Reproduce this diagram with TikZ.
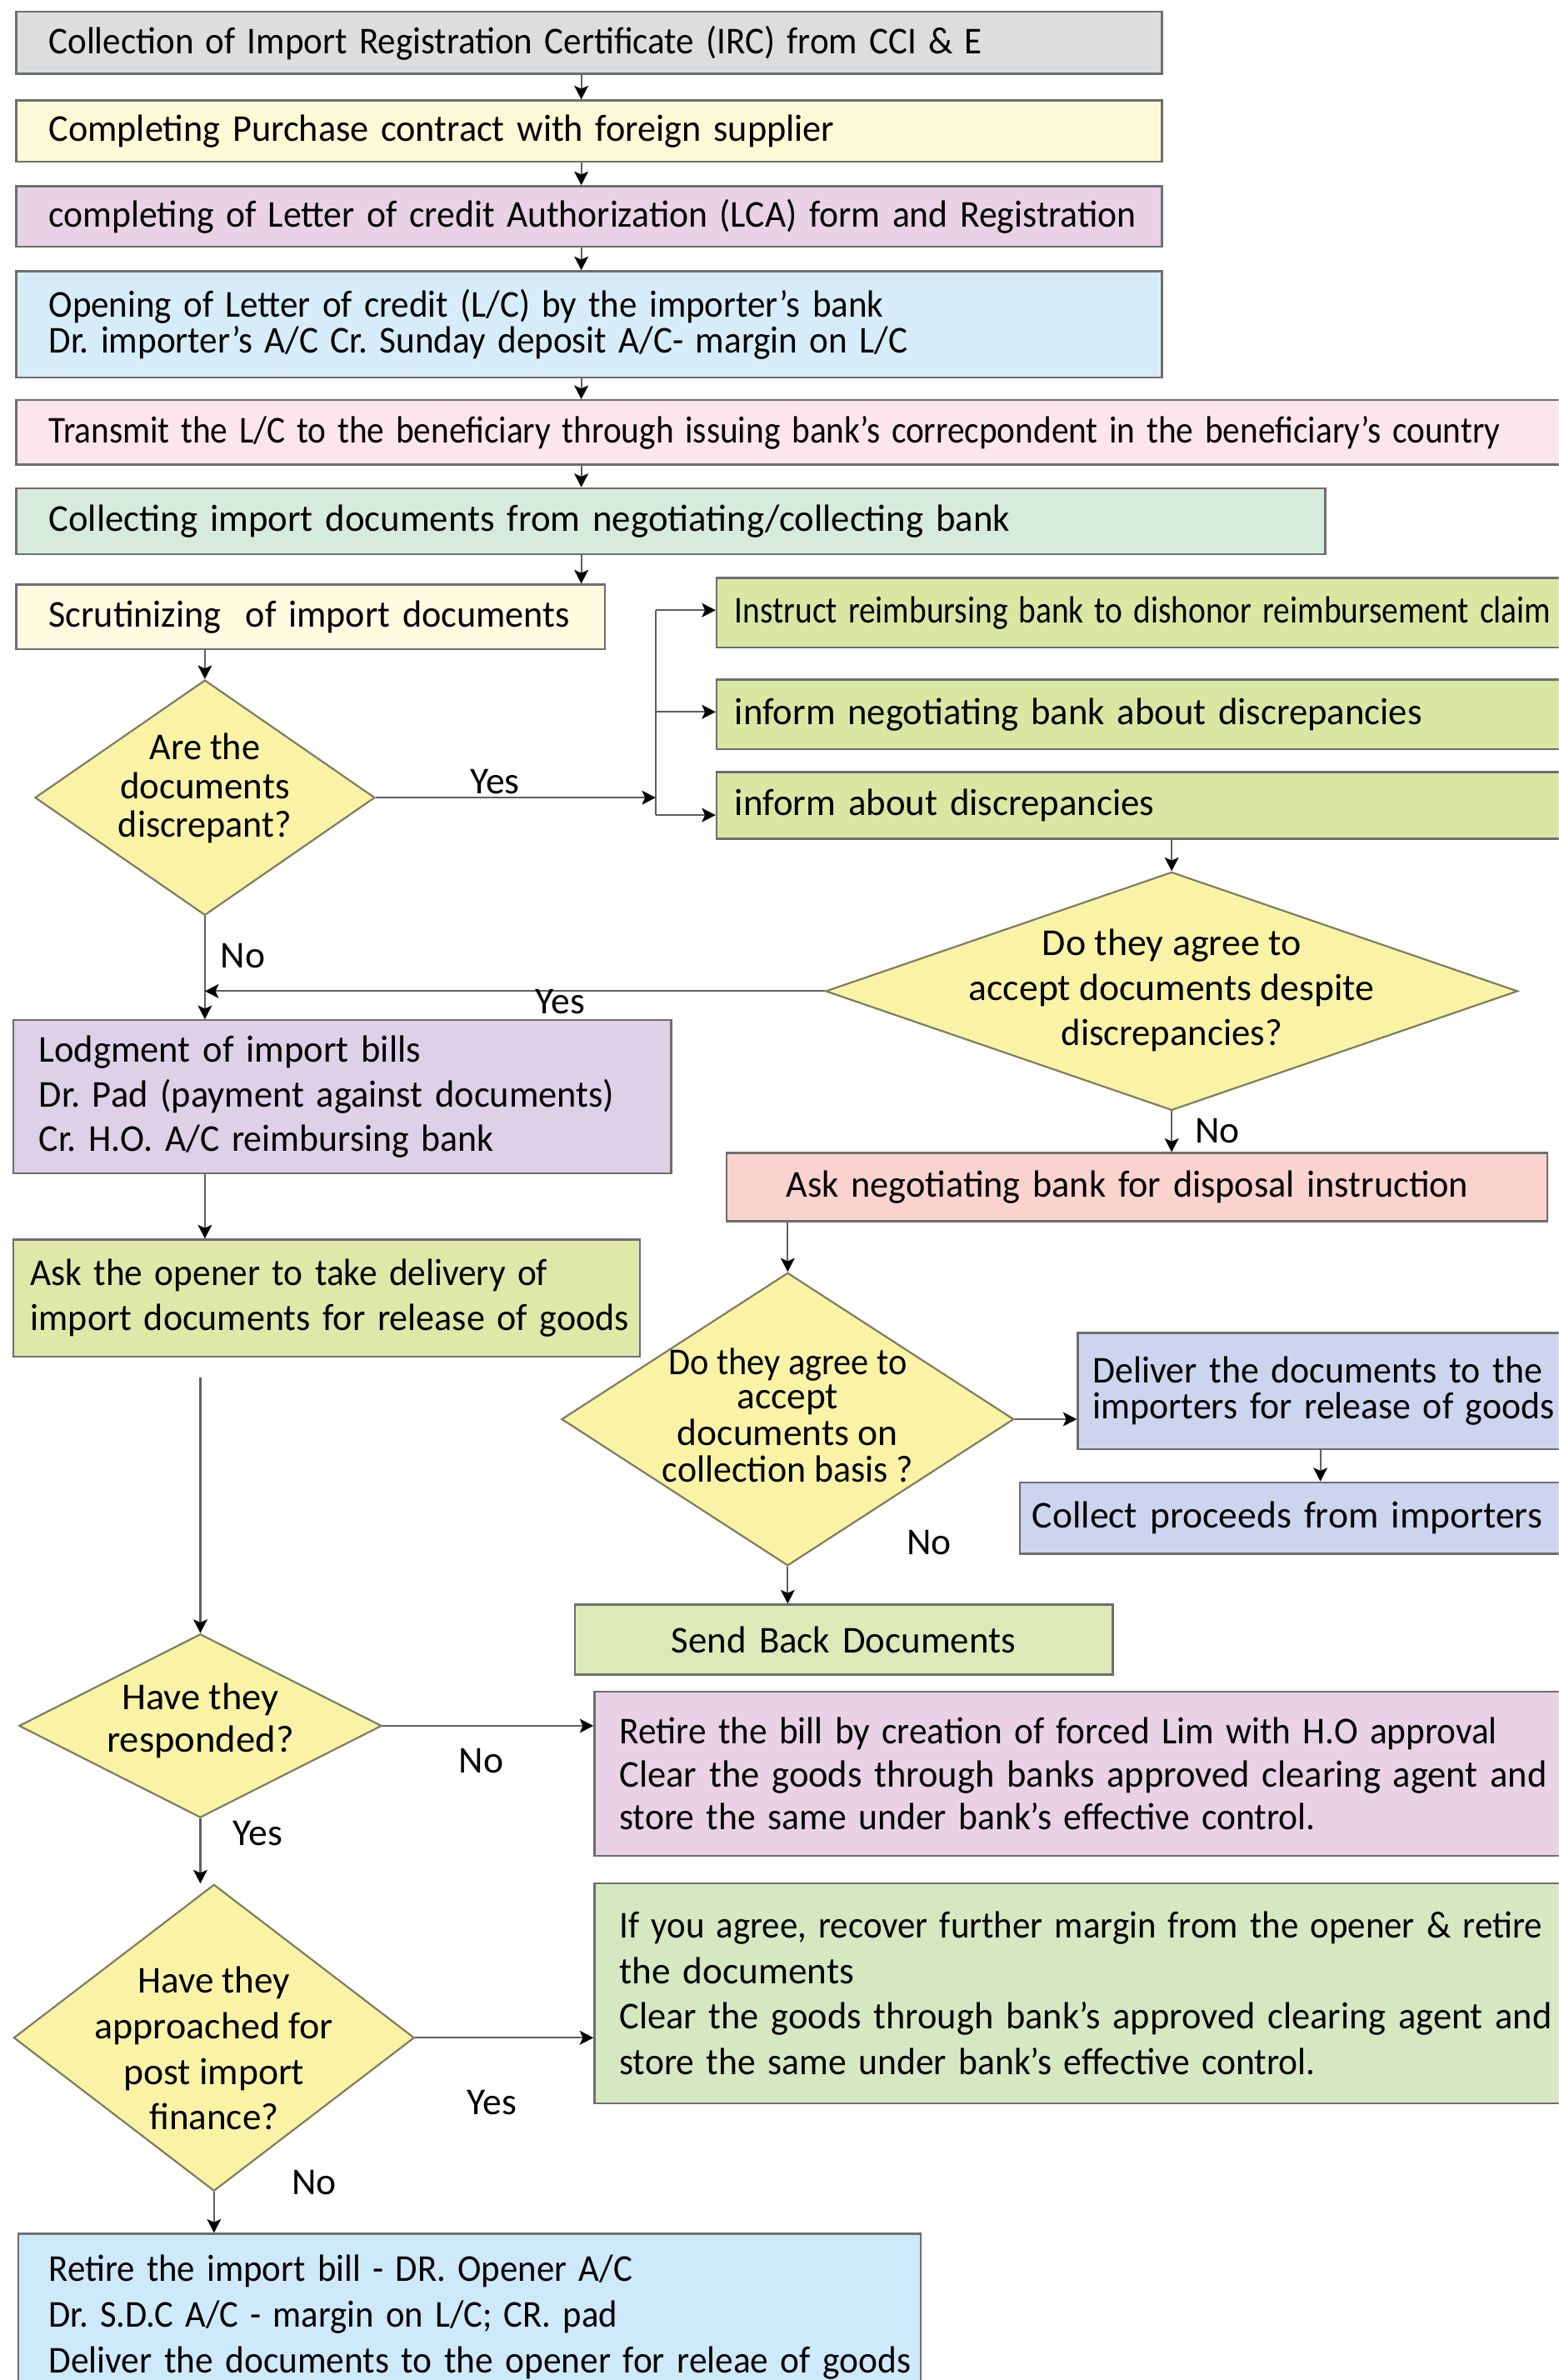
\documentclass[tikz,border=0pt]{standalone}
\usepackage{graphicx}
\usepackage{fontspec}
\setmainfont{Carlito}
\usetikzlibrary{shapes.geometric,arrows.meta,calc}
\definecolor{cGray}{RGB}{220,221,223}
\definecolor{cCream}{RGB}{250,250,214}
\definecolor{cPink}{RGB}{233,210,229}
\definecolor{cBlue}{RGB}{214,236,249}
\definecolor{cRose}{RGB}{252,229,236}
\definecolor{cMint}{RGB}{214,235,220}
\definecolor{cCreamB}{RGB}{253,251,224}
\definecolor{cLime}{RGB}{218,231,163}
\definecolor{cDia}{RGB}{250,243,165}
\definecolor{cLav}{RGB}{221,208,231}
\definecolor{cLimeB}{RGB}{223,232,168}
\definecolor{cSalmon}{RGB}{250,211,206}
\definecolor{cPeri}{RGB}{205,212,238}
\definecolor{cSend}{RGB}{221,234,184}
\definecolor{cGreen}{RGB}{214,232,193}
\definecolor{cSky}{RGB}{206,234,250}
\definecolor{cBorder}{RGB}{110,110,110}
\definecolor{cDiaBorder}{RGB}{125,125,95}
\definecolor{cLine}{RGB}{95,95,95}
\def\myfs{12.5}
\newcommand\dtext[2][-3.1]{\makebox[0pt]{\smash{\raisebox{#1pt}{\begin{tabular}{@{}c@{}}#2\end{tabular}}}}}
\newcommand\fw[2]{\resizebox{#1pt}{\height}{#2}}
\begin{document}
\frenchspacing
\begin{tikzpicture}[x=0.5pt,y=-0.5pt,
  box/.style={draw=cBorder, line width=0.65pt, anchor=north west, inner ysep=0pt, align=left},
  lsp/.style={font=\fontsize{\myfs}{#1}\selectfont},
  dia/.style={diamond, draw=cDiaBorder, line width=0.6pt, fill=cDia, inner sep=0pt, anchor=center},
  arr/.style={draw=cLine, line width=0.6pt, -{Stealth[length=4.5pt,width=4.6pt,inset=1pt,color=black]}},
  conn/.style={draw=cLine, line width=0.6pt},
  lbl/.style={inner sep=0pt, lsp=14pt}
]
\useasboundingbox (0,0) rectangle (1027,1568);
\fill[white] (0,0) rectangle (1027,1568);
\clip (0,0) rectangle (1027,1568);

% top chain
\node[box, lsp=14pt, fill=cGray, minimum width=377.5pt, minimum height=20.5pt, inner xsep=10.75pt, text width=356pt] (b1) at (10,7) {\fw{307.6}{Collection of Import Registration Certificate (IRC) from CCI \& E}};
\node[box, lsp=14pt, fill=cCream, minimum width=377.5pt, minimum height=20.25pt, inner xsep=10.75pt, text width=356pt] (b2) at (10,65.5) {\fw{258.8}{Completing Purchase contract with foreign supplier}};
\node[box, lsp=14pt, fill=cPink, minimum width=377.5pt, minimum height=20pt, inner xsep=10.75pt, text width=356pt] (b3) at (10,122) {\fw{358.3}{completing of Letter of credit Authorization (LCA) form and Registration}};
\node[box, lsp=11.9pt, fill=cBlue, minimum width=377.5pt, minimum height=35pt, inner xsep=10.75pt, text width=356pt] (b4) at (10,178) {\fw{275}{Opening of Letter of credit (L/C) by the importer’s bank}\\\fw{283}{Dr. importer’s A/C Cr. Sunday deposit A/C- margin on L/C}};
\node[box, lsp=14pt, fill=cRose, minimum width=515pt, minimum height=21.25pt, inner xsep=10.75pt, text width=493.5pt] (b5) at (10,263) {\fw{478.2}{Transmit the L/C to the beneficiary through issuing bank’s correcpondent in the beneficiary’s country}};
\node[box, lsp=14pt, fill=cMint, minimum width=431.25pt, minimum height=21.75pt, inner xsep=10.75pt, text width=409.75pt] (b6) at (10,321) {\fw{316.7}{Collecting import documents from negotiating/collecting bank}};
\node[box, lsp=14pt, fill=cCreamB, minimum width=194pt, minimum height=21.25pt, inner xsep=10.75pt, text width=172.5pt] (b7) at (10,384.5) {\fw{171.6}{Scrutinizing\ \ of import documents}};

% right green boxes
\node[box, lsp=14pt, fill=cLime, minimum width=285pt, minimum height=23pt, inner xsep=6pt, text width=273pt] (g1) at (471.5,380) {\fw{268.9}{Instruct reimbursing bank to dishonor reimbursement claim}};
\node[box, lsp=14pt, fill=cLime, minimum width=285pt, minimum height=23pt, inner xsep=6pt, text width=273pt] (g2) at (471.5,447) {\fw{226.4}{inform negotiating bank about discrepancies}};
\node[box, lsp=14pt, fill=cLime, minimum width=285pt, minimum height=22pt, inner xsep=6pt, text width=273pt] (g3) at (471.5,508) {\fw{138.2}{inform about discrepancies}};

% decisions
\node[dia, lsp=12.75pt, minimum width=112pt, minimum height=77.5pt] (d1) at (135,525.5) {\dtext[-0.8]{\fw{36.4}{Are the}\\\fw{55.9}{documents}\\\fw{57.1}{discrepant?}}};
\node[dia, lsp=14.8pt, minimum width=228pt, minimum height=78.5pt] (d2) at (772,653) {\dtext[-3.1]{\fw{85.2}{Do they agree to}\\\fw{133.6}{accept documents despite}\\\fw{72.8}{discrepancies?}}};

\node[box, lsp=14.75pt, fill=cLav, minimum width=216.75pt, minimum height=50.5pt, inner xsep=8.5pt, text width=199.75pt] (lodg) at (8,671.5) {\fw{125.8}{Lodgment of import bills}\\\fw{189.6}{Dr. Pad (payment against documents)}\\\fw{149.7}{Cr. H.O. A/C reimbursing bank}};
\node[box, lsp=14pt, fill=cSalmon, minimum width=270.5pt, minimum height=22.5pt, inner xsep=19.75pt, text width=231pt] (neg) at (478,759) {\fw{224.7}{Ask negotiating bank for disposal instruction}};
\node[box, lsp=14.75pt, fill=cLimeB, minimum width=206.5pt, minimum height=38.5pt, inner xsep=5.75pt, text width=195pt] (opener) at (8,816) {\fw{170.3}{Ask the opener to take delivery of}\\\fw{197.2}{import documents for release of goods}};

\node[dia, lsp=11.15pt, minimum width=149pt, minimum height=96.5pt] (d3) at (519,935) {\dtext[-3.3]{\fw{78.6}{Do they agree to}\\\fw{33.4}{accept}\\\fw{72.7}{documents on}\\\fw{82.6}{collection basis ?}}};
\node[box, lsp=11.65pt, fill=cPeri, minimum width=165pt, minimum height=38.25pt, inner xsep=5pt, text width=155pt] (deliver) at (709.5,877.5) {\fw{148}{Deliver the documents to the}\\\fw{152}{importers for release of goods}};
\node[box, lsp=14pt, fill=cPeri, minimum width=184pt, minimum height=23.5pt, inner xsep=4pt, text width=176pt] (collect) at (671.5,976) {\fw{168}{Collect proceeds from importers}};
\node[box, lsp=14pt, fill=cSend, align=center, minimum width=177.25pt, minimum height=23pt, inner xsep=0pt, text width=177.25pt] (send) at (378,1056.5) {\fw{113.4}{Send Back Documents}};

\node[dia, lsp=13.85pt, minimum width=119.5pt, minimum height=60.5pt] (d4) at (132,1137) {\dtext[-1.9]{\fw{51.8}{Have they}\\\fw{61.6}{responded?}}};
\node[box, lsp=14.1pt, fill=cPink, minimum width=324.5pt, minimum height=54pt, inner xsep=8.25pt, text width=308pt] (retire) at (391,1114) {\fw{289.2}{Retire the bill by creation of forced Lim with H.O approval}\\\fw{305.6}{Clear the goods through banks approved clearing agent and}\\\fw{229.3}{store the same under bank’s effective control.}};
\node[dia, lsp=15pt, minimum width=132pt, minimum height=101pt] (d5) at (141,1342.5) {\dtext[-7.8]{\fw{50.1}{Have they}\\\fw{78.6}{approached for}\\\fw{59.6}{post import}\\\fw{42.6}{finance?}}};
\node[box, lsp=14.95pt, fill=cGreen, minimum width=324.5pt, minimum height=72.5pt, inner xsep=8.25pt, text width=308pt] (green) at (391,1240) {\fw{303.9}{If you agree, recover further margin from the opener \& retire}\\\fw{77.3}{the documents}\\\fw{307.2}{Clear the goods through bank’s approved clearing agent and}\\\fw{229.3}{store the same under bank’s effective control.}};
\node[box, lsp=15.2pt, fill=cSky, minimum width=297.25pt, minimum height=55pt, inner xsep=10pt, text width=277.25pt] (final) at (11.5,1471) {\fw{192.3}{Retire the import bill - DR. Opener A/C}\\\fw{187.4}{Dr. S.D.C A/C - margin on L/C; CR. pad}\\\fw{284}{Deliver the documents to the opener for releae of goods}};

% connectors: top chain
\coordinate (ax) at (383,0);
\draw[arr] (b1.south -| ax) -- (b2.north -| ax);
\draw[arr] (b2.south -| ax) -- (b3.north -| ax);
\draw[arr] (b3.south -| ax) -- (b4.north -| ax);
\draw[arr] (b4.south -| ax) -- (b5.north -| ax);
\draw[arr] (b5.south -| ax) -- (b6.north -| ax);
\draw[arr] (b6.south -| ax) -- (b7.north -| ax);
\draw[arr] (b7.south -| d1.north) -- (d1.north);

% branch
\coordinate (br1) at (432,402);
\coordinate (br2) at (432,469);
\coordinate (br3) at (432,537);
\draw[conn] (br1) -- (br3);
\draw[arr] (d1.east) -- (d1.east -| br1);
\draw[arr] (br1) -- (br1 -| g1.west);
\draw[arr] (br2) -- (br2 -| g2.west);
\draw[arr] (br3) -- (br3 -| g3.west);
\node[lbl] (yes1) at (326,515) {Yes};

\draw[arr] (g3.south -| d2.north) -- (d2.north);
\draw[arr] (d1.south) -- (d1.south |- lodg.north);
\node[lbl] (no1) at (160,630) {No};
\draw[arr] (d2.west) -- (d2.west -| d1.south);
\node[lbl] (yes2) at (369,660) {Yes};
\draw[arr] (d2.south) -- (d2.south |- neg.north);
\node[lbl] (no2) at (802,745) {No};

\draw[arr] (lodg.south -| d1.south) -- (opener.north -| d1.south);
\draw[arr] (neg.south -| d3.north) -- (d3.north);
\draw[arr] (d3.east) -- (d3.east -| deliver.west);
\coordinate (cx) at (870,0);
\draw[arr] (deliver.south -| cx) -- (collect.north -| cx);
\draw[arr] (d3.south) -- (d3.south |- send.north);
\node[lbl] (no3) at (612,1016) {No};

\draw[arr, shorten <=6.5pt] (opener.south -| d4.north) -- (d4.north);
\draw[arr] (d4.east) -- (d4.east -| retire.west);
\node[lbl] (no4) at (317,1160) {No};
\draw[arr] (d4.south) -- (d4.south |- d5.north);
\node[lbl] (yes3) at (170,1208) {Yes};
\draw[arr] (d5.east) -- (d5.east -| green.west);
\node[lbl] (yes4) at (324,1385) {Yes};
\draw[arr] (d5.south) -- (d5.south |- final.north);
\node[lbl] (no5) at (207,1438) {No};
\end{tikzpicture}
\end{document}
